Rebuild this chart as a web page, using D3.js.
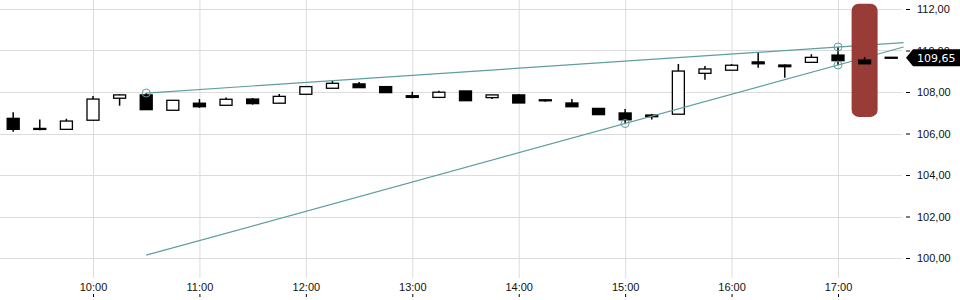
<!DOCTYPE html>
<html>
<head>
<meta charset="utf-8">
<script src="https://cdn.jsdelivr.net/npm/d3@7"></script>
<style>
    body { margin: 0; background: #fff; }
    svg { display: block; font-family: "DejaVu Sans", sans-serif; }
</style>
</head>
<body>
<svg id="chart" width="960" height="300"></svg>
<script>
// 15 minute candles
let times = ["09:15", "09:30", "09:45", "10:00", "10:15", "10:30", "10:45", "11:00", "11:15", "11:30",
    "11:45", "12:00", "12:15", "12:30", "12:45", "13:00", "13:15", "13:30", "13:45", "14:00",
    "14:15", "14:30", "14:45", "15:00", "15:15", "15:30", "15:45", "16:00", "16:15", "16:30",
    "16:45", "17:00", "17:15", "17:30"];
let open = [106.73, 106.22, 106.20, 106.64, 107.70, 107.86, 107.12, 107.46, 107.36, 107.66,
    107.46, 107.89, 108.18, 108.39, 108.26, 107.82, 107.74, 108.05, 107.73, 107.86,
    107.60, 107.47, 107.21, 106.99, 106.89, 106.93, 108.90, 109.05, 109.45, 109.30,
    109.43, 109.78, 109.54, 109.65];
let high = [107.02, 106.68, 106.71, 107.81, 107.89, 107.95, 107.60, 107.66, 107.73, 107.71,
    107.90, 108.26, 108.53, 108.48, 108.26, 108.01, 108.06, 108.05, 107.86, 107.90,
    107.64, 107.66, 107.21, 107.18, 106.94, 109.35, 109.25, 109.35, 109.93, 109.32,
    109.82, 110.17, 109.69, 109.65];
let low = [106.09, 106.16, 106.20, 106.64, 107.34, 107.15, 107.12, 107.24, 107.36, 107.39,
    107.46, 107.89, 108.18, 108.21, 107.97, 107.70, 107.74, 107.58, 107.66, 107.47,
    107.53, 107.29, 106.91, 106.46, 106.68, 106.93, 108.59, 109.05, 109.17, 108.69,
    109.43, 109.30, 109.36, 109.65];
let close = [106.20, 106.18, 106.60, 107.66, 107.86, 107.15, 107.60, 107.29, 107.65, 107.44,
    107.79, 108.26, 108.42, 108.21, 107.97, 107.74, 107.99, 107.58, 107.86, 107.47,
    107.57, 107.29, 106.91, 106.66, 106.81, 109.01, 109.11, 109.29, 109.36, 109.22,
    109.67, 109.51, 109.36, 109.65];

let y_ticks = [100, 102, 104, 106, 108, 110, 112];

// trend lines: two anchor points each, drawn from 10:30 to the right edge
let upper_line = [["10:30", 107.95], ["17:00", 110.17]];
let lower_line = [["15:00", 106.48], ["17:00", 109.30]];
let line_start = "10:30";
let line_end = "17:37";

// highlighted candle
let highlight_time = "17:15";
let highlight_range = [106.80, 112.25];

const parseTime = d3.timeParse("%Y-%m-%d %H:%M");
const t = s => parseTime("2024-01-02 " + s);

let candles = times.map(function (s, i) {
    return { time: t(s), open: open[i], high: high[i], low: low[i], close: close[i] };
});

let svg = d3.select("#chart");

let x = d3.scaleTime()
    .domain([t("10:00"), t("17:00")])
    .range([93, 838]);

let y = d3.scaleLinear()
    .domain([100, 112])
    .range([258, 9]);

let locale = d3.formatLocale({ decimal: ",", thousands: ".", grouping: [3], currency: ["", "€"] });
let fmt = locale.format(".2f");

// grid
let hours = d3.timeHour.range(t("10:00"), t("17:01"));
svg.append("g")
    .selectAll("line")
    .data(hours)
    .enter()
    .append("line")
    .attr("x1", d => x(d) + 0.5)
    .attr("x2", d => x(d) + 0.5)
    .attr("y1", 0)
    .attr("y2", 278)
    .style("stroke", "#dcdcdc");

svg.append("g")
    .selectAll("line")
    .data(y_ticks)
    .enter()
    .append("line")
    .attr("x1", 0)
    .attr("x2", 902)
    .attr("y1", d => Math.round(y(d)) + 0.5)
    .attr("y2", d => Math.round(y(d)) + 0.5)
    .style("stroke", "#dcdcdc");

// axes
let xAxis = svg.append("g")
    .attr("transform", "translate(0,297)")
    .call(d3.axisTop(x).tickValues(hours).tickFormat(d3.timeFormat("%H:%M")).tickSize(3).tickPadding(3));
xAxis.select(".domain").remove();
xAxis.selectAll("text").style("font-size", "11px").style("fill", "#111");

let yAxis = svg.append("g")
    .attr("transform", "translate(906,0)")
    .call(d3.axisRight(y).tickValues(y_ticks).tickFormat(fmt).tickSize(4).tickPadding(7));
yAxis.select(".domain").remove();
yAxis.selectAll("text").style("font-size", "11px").style("fill", "#111");

const bodyWidth = 12;

function drawCandles(group, data) {
    let c = group.selectAll(".candle")
        .data(data)
        .enter()
        .append("g")
        .attr("class", "candle");

    c.append("line")
        .attr("x1", d => x(d.time))
        .attr("x2", d => x(d.time))
        .attr("y1", d => y(d.high))
        .attr("y2", d => y(d.low))
        .style("stroke", "#000")
        .style("stroke-width", 1.5);

    // flat bodies still get a visible bar
    c.append("rect")
        .attr("x", d => x(d.time) - bodyWidth / 2)
        .attr("y", d => y(Math.max(d.open, d.close)) - (Math.abs(y(d.open) - y(d.close)) < 1 ? 0.5 : 0))
        .attr("width", bodyWidth)
        .attr("height", d => Math.max(1, Math.abs(y(d.open) - y(d.close))))
        .style("fill", d => d.close > d.open ? "#fff" : "#000")
        .style("stroke", "#000")
        .style("stroke-width", 1.3);
}

let highlighted = candles.filter(d => +d.time == +t(highlight_time));
drawCandles(svg.append("g"), candles.filter(d => +d.time != +t(highlight_time)));

// trend lines
function valueAt(line, time) {
    let t0 = +t(line[0][0]), t1 = +t(line[1][0]);
    let v0 = line[0][1], v1 = line[1][1];
    return v0 + (v1 - v0) * (+time - t0) / (t1 - t0);
}

let lines = svg.append("g");
[upper_line, lower_line].forEach(function (line) {
    let a = t(line_start), b = t(line_end);
    lines.append("line")
        .attr("x1", x(a))
        .attr("y1", y(valueAt(line, a)))
        .attr("x2", x(b))
        .attr("y2", y(valueAt(line, b)))
        .style("stroke", "cadetblue")
        .style("stroke-width", 1.2);
    line.forEach(function (p) {
        lines.append("circle")
            .attr("cx", x(t(p[0])))
            .attr("cy", y(p[1]))
            .attr("r", 4)
            .style("fill", "none")
            .style("stroke", "cadetblue")
            .style("stroke-width", 1);
    });
});

// highlight band
svg.append("rect")
    .attr("x", x(t(highlight_time)) - 13)
    .attr("y", y(highlight_range[1]))
    .attr("width", 26)
    .attr("height", y(highlight_range[0]) - y(highlight_range[1]))
    .attr("rx", 7)
    .style("fill", "#993c37");

drawCandles(svg.append("g"), highlighted);

// last price label
let last = close[close.length - 1];
let ly = y(last);
svg.append("path")
    .attr("d", "M906," + ly + "L913," + (ly - 8.5) + "L960," + (ly - 8.5) + "L960," + (ly + 8.5) + "L913," + (ly + 8.5) + "Z")
    .style("fill", "#000");
svg.append("text")
    .attr("x", 917)
    .attr("y", ly)
    .attr("dy", "0.35em")
    .text(fmt(last))
    .style("font-size", "11px")
    .style("fill", "#fff");
</script>
</body>
</html>
